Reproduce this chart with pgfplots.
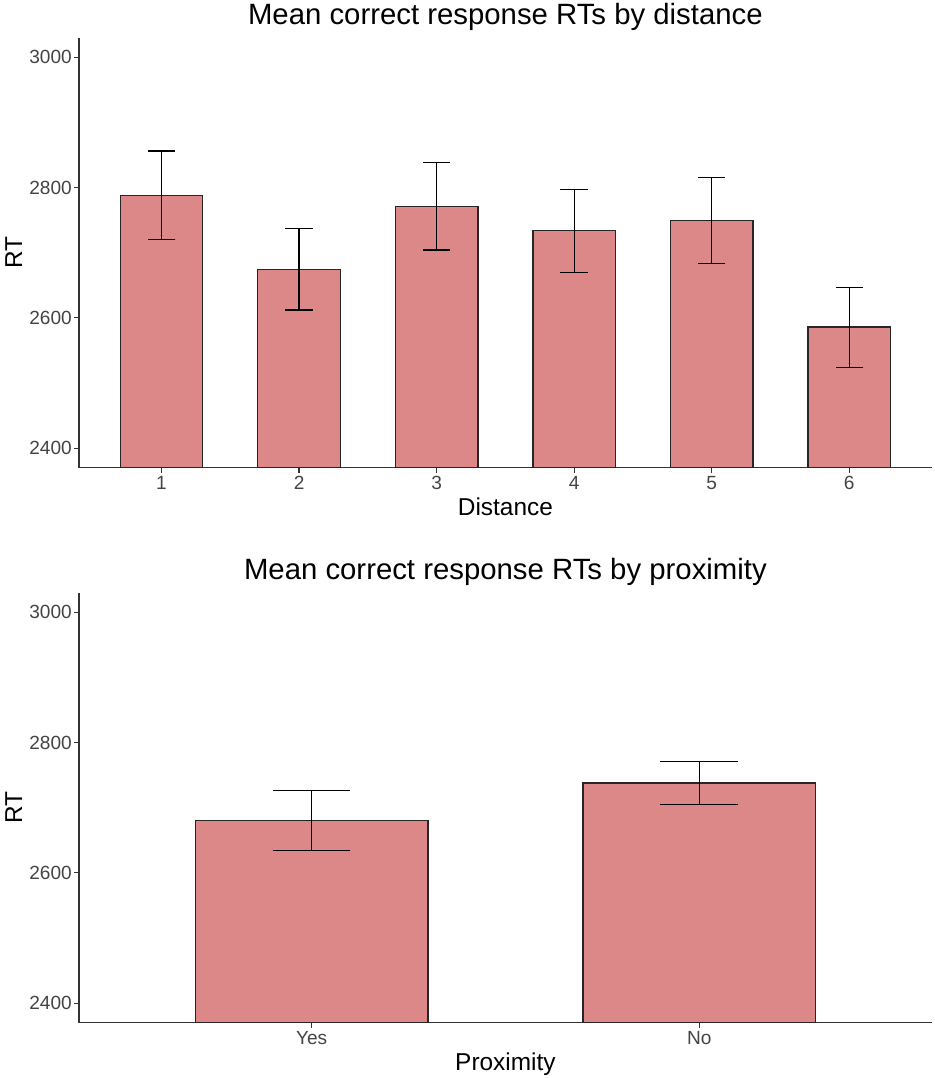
\documentclass[border=0pt]{standalone}
\usepackage{pgfplots}
\pgfplotsset{compat=1.18}
\usepackage{fontspec}
\setmainfont{Liberation Sans}
\definecolor{barfill}{HTML}{DD8888}
\definecolor{axgray}{HTML}{333333}
\definecolor{tickgray}{HTML}{444444}

\pgfplotstableread{
x y ep em
1 2788 68 68
2 2674 63 62
3 2771 68 67
4 2734 63 64
5 2749 67 65
6 2586 61 62
}\distdata

\pgfplotstableread{
x y ep em
1 2680.5 46 46
2 2738 33 33
}\proxdata

\pgfplotsset{
  rtstyle/.style={
    scale only axis, width=639.6pt, height=322.5pt,
    anchor=south west,
    axis lines=left,
    axis line style={axgray, line width=1pt, -},
    ymin=2370, ymax=3030, ytick={2400,2600,2800,3000},
    xtick=data,
    tick align=outside, major tick length=3.75pt,
    tick style={axgray, line width=0.9pt},
    minor tick num=0,
    /pgf/number format/assume math mode=true,
    /pgf/number format/set thousands separator={},
    xticklabel style={font=\fontsize{14.3pt}{16pt}\selectfont, text=tickgray, anchor=base, yshift=-12.95pt},
    yticklabel style={font=\fontsize{14.3pt}{16pt}\selectfont, text=tickgray, anchor=east, inner sep=0pt, xshift=-1.5pt},
    every axis title shift=0pt,
    title style={font=\fontsize{22pt}{26pt}\selectfont, at={(axis description cs:0.5,1)}, anchor=base, yshift=10pt},
    xlabel style={font=\fontsize{18.3pt}{22pt}\selectfont, at={(axis description cs:0.5,0)}, anchor=base, yshift=-35.5pt},
    ylabel style={font=\fontsize{18.3pt}{22pt}\selectfont, at={(axis description cs:-0.0668,0.5)}, anchor=base, rotate=0},
    ylabel={RT},
  }
}

\begin{document}
\begin{tikzpicture}[x=0.75pt,y=0.75pt]
\path[use as bounding box] (0pt,0pt) rectangle (701.25pt,808.5pt);

\begin{axis}[rtstyle, at={(59.25pt,457.725pt)},
  xmin=0.4, xmax=6.6,
  xticklabels={1,2,3,4,5,6},
  title={Mean correct response RTs by distance},
  xlabel={Distance}]
\addplot[ybar, bar width=0.6, bar shift=0, fill=barfill, draw=black!85, line width=1pt,
  error bars/.cd, y dir=both, y explicit, error mark=-,
  error bar style={line width=0.9pt, black},
  error mark options={black, line width=0.9pt, mark size=10.3pt, rotate=90}]
  table[x=x, y=y, y error plus=ep, y error minus=em] {\distdata};
\end{axis}

\begin{axis}[rtstyle, at={(59.25pt,41.475pt)},
  xmin=0.4, xmax=2.6,
  xticklabels={Yes,No},
  title={Mean correct response RTs by proximity},
  xlabel={Proximity}]
\addplot[ybar, bar width=0.6, bar shift=0, fill=barfill, draw=black!85, line width=1pt,
  error bars/.cd, y dir=both, y explicit, error mark=-,
  error bar style={line width=0.9pt, black},
  error mark options={black, line width=0.9pt, mark size=29.1pt, rotate=90}]
  table[x=x, y=y, y error plus=ep, y error minus=em] {\proxdata};
\end{axis}
\end{tikzpicture}
\end{document}
